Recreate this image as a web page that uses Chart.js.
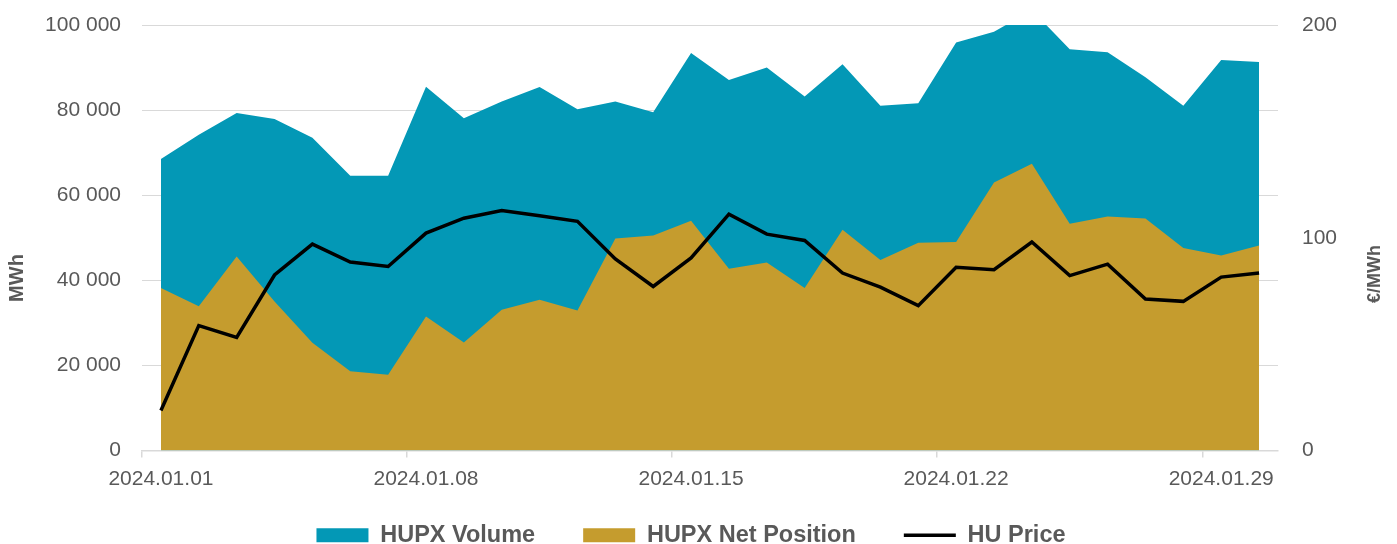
<!DOCTYPE html>
<html>
<head>
<meta charset="utf-8">
<script src="https://cdn.jsdelivr.net/npm/chart.js@4.4.1/dist/chart.umd.min.js"></script>
<style>
  html, body { margin: 0; padding: 0; background: #fff; overflow: hidden; }
  #wrap { width: 1397px; height: 557px; position: relative; }
</style>
</head>
<body>
<div id="wrap"><canvas id="hupxChart"></canvas></div>
<script>
const days = [
    '2024.01.01', '2024.01.02', '2024.01.03', '2024.01.04', '2024.01.05', '2024.01.06',
    '2024.01.07', '2024.01.08', '2024.01.09', '2024.01.10', '2024.01.11', '2024.01.12',
    '2024.01.13', '2024.01.14', '2024.01.15', '2024.01.16', '2024.01.17', '2024.01.18',
    '2024.01.19', '2024.01.20', '2024.01.21', '2024.01.22', '2024.01.23', '2024.01.24',
    '2024.01.25', '2024.01.26', '2024.01.27', '2024.01.28', '2024.01.29', '2024.01.30'
];

// MWh
const hupxVolume = [
    68500, 74200, 79300, 77900, 73500, 64600, 64600, 85500, 78100, 82000,
    85400, 80200, 82000, 79500, 93400, 87100, 90000, 83200, 90800, 81000,
    81600, 95900, 98400, 103500, 94300, 93600, 87700, 81000, 91800, 91300
];
const hupxNetPosition = [
    38200, 33900, 45600, 35000, 25300, 18600, 17800, 31500, 25400, 33100,
    35400, 32900, 49800, 50500, 54000, 42700, 44200, 38200, 51900, 44800,
    48800, 49000, 63000, 67400, 53300, 55000, 54500, 47600, 45800, 48200
];
// €/MWh
const huPrice = [
    18.8, 58.7, 53.2, 82.5, 97.0, 88.6, 86.5, 102.2, 109.2, 112.8,
    110.3, 107.7, 90.0, 77.1, 90.5, 111.1, 101.7, 98.7, 83.4, 76.8,
    68.1, 86.1, 85.0, 98.0, 82.2, 87.6, 71.2, 70.1, 81.5, 83.4
];

const FONT = '"Liberation Sans", Arial, sans-serif';
const TEXT = '#595959';
const GRID = '#d9d9d9';

// axis titles read bottom-to-top on both sides
const axisTitles = {
    id: 'axisTitles',
    afterDraw(chart) {
        const ctx = chart.ctx;
        const items = [
            { x: 17, y: 278, text: 'MWh', size: 20 },
            { x: 1375, y: 274, text: '€/MWh', size: 18 }
        ];
        ctx.save();
        ctx.fillStyle = TEXT;
        ctx.textAlign = 'center';
        ctx.textBaseline = 'middle';
        items.forEach(t => {
            ctx.save();
            ctx.font = `bold ${t.size}px ${FONT}`;
            ctx.translate(t.x, t.y);
            ctx.rotate(-Math.PI / 2);
            ctx.fillText(t.text, 0, 0);
            ctx.restore();
        });
        ctx.restore();
    }
};

// fixed axis sizes so the plot area lands where the original one is
function fixWidth(w) {
    return s => { s.width = w; s.paddingTop = 0; s.paddingBottom = 0; };
}

const ctx = document.getElementById('hupxChart').getContext('2d');

new Chart(ctx, {
    type: 'line',
    data: {
        labels: days,
        datasets: [
            {
                label: 'HUPX Volume',
                data: hupxVolume,
                yAxisID: 'y',
                backgroundColor: '#0398b6',
                borderColor: '#0398b6',
                borderWidth: 0,
                fill: 'origin',
                pointRadius: 0,
                pointStyle: 'rect',
                tension: 0,
                order: 3
            },
            {
                label: 'HUPX Net Position',
                data: hupxNetPosition,
                yAxisID: 'y',
                backgroundColor: '#c59c2e',
                borderColor: '#c59c2e',
                borderWidth: 0,
                fill: 'origin',
                pointRadius: 0,
                pointStyle: 'rect',
                tension: 0,
                order: 2
            },
            {
                label: 'HU Price',
                data: huPrice,
                yAxisID: 'y1',
                backgroundColor: '#000',
                borderColor: '#000',
                borderWidth: 3.5,
                fill: false,
                pointRadius: 0,
                pointStyle: 'line',
                tension: 0,
                order: 1
            }
        ]
    },
    options: {
        responsive: true,
        maintainAspectRatio: false,
        animation: false,
        layout: {
            padding: { top: 25, left: 45, right: 60, bottom: 0 }
        },
        plugins: {
            legend: {
                position: 'bottom',
                labels: {
                    usePointStyle: true,
                    pointStyleWidth: 52,
                    boxHeight: 14,
                    padding: 48,
                    color: TEXT,
                    font: { family: FONT, size: 23.5, weight: 'bold' },
                    sort: (a, b) => a.datasetIndex - b.datasetIndex
                }
            },
            tooltip: { enabled: false }
        },
        scales: {
            x: {
                offset: true,
                afterFit: s => { s.height = 25; },
                grid: {
                    offset: true,
                    drawOnChartArea: false,
                    drawTicks: true,
                    tickLength: 7,
                    lineWidth: 1.5,
                    color: c => (c.index !== undefined && c.index < days.length && c.index % 7 === 0) ? GRID : 'rgba(0,0,0,0)'
                },
                border: { color: GRID, width: 1.5 },
                ticks: {
                    autoSkip: false,
                    maxRotation: 0,
                    mirror: true,
                    padding: -30,
                    color: TEXT,
                    font: { family: FONT, size: 21, lineHeight: '2px' },
                    callback: (val, idx) => idx % 7 === 0 ? days[idx] : ''
                }
            },
            y: {
                position: 'left',
                min: 0,
                max: 100000,
                afterFit: fixWidth(97),
                grid: { color: GRID, lineWidth: 1, drawTicks: false },
                border: { display: false },
                ticks: {
                    stepSize: 20000,
                    padding: 21,
                    color: TEXT,
                    font: { family: FONT, size: 21 },
                    callback: v => v.toLocaleString('en-US').replace(/,/g, ' ')
                }
            },
            y1: {
                position: 'right',
                min: 0,
                max: 200,
                afterFit: fixWidth(59),
                grid: { display: false, drawTicks: false },
                border: { display: false },
                ticks: {
                    stepSize: 100,
                    padding: 24,
                    color: TEXT,
                    font: { family: FONT, size: 21 }
                }
            }
        }
    },
    plugins: [axisTitles]
});
</script>
</body>
</html>
